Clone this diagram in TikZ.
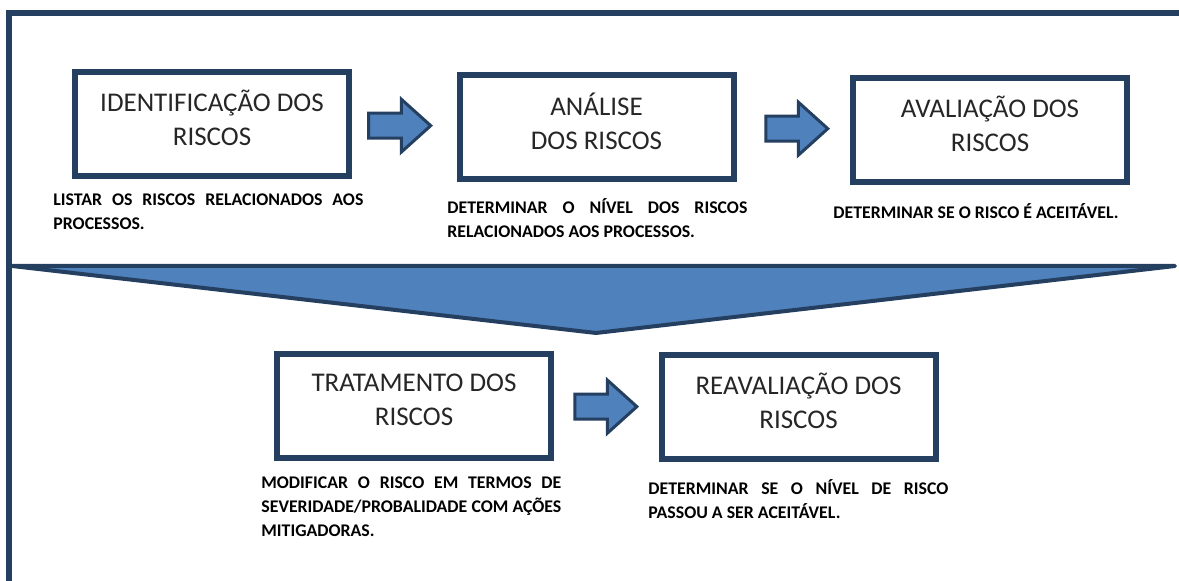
\documentclass[tikz,border=0pt]{standalone}
\usepackage{fontspec}
\setmainfont{Carlito}
\usetikzlibrary{shapes.arrows,calc}
\definecolor{navy}{HTML}{243F60}
\definecolor{steel}{HTML}{4F81BD}
\definecolor{ink}{HTML}{262626}
\begin{document}
\begin{tikzpicture}[x=0.5pt,y=-0.5pt,
	etapa/.style={draw=navy, line width=3pt, minimum width=137pt, minimum height=52pt,
		align=center, text=ink, font=\fontsize{13.5}{17}\selectfont,
		execute at end node={\rule[-6.5pt]{0pt}{0pt}}},
	nota/.style={anchor=north west, inner sep=0pt, text width=#1, align=justify,
		font=\bfseries\fontsize{8.9}{12}\selectfont},
	seta/.style={single arrow, draw=navy, fill=steel, line width=1.5pt, inner sep=0pt,
		inner ysep=5.5pt, minimum height=31pt, minimum width=25pt,
		single arrow head extend=7pt, single arrow tip angle=84}]
		\useasboundingbox (0,0) rectangle (1179,581);
		\draw[navy, line width=3pt] (9,581) -- (9,13) -- (1179,13);

		\node[etapa] (b1) at (212,124.5) {IDENTIFICAÇÃO DOS\\RISCOS};
		\node[etapa] (b2) at (596.5,127.5) {ANÁLISE\\DOS RISCOS};
		\node[etapa] (b3) at (990,130) {AVALIAÇÃO DOS\\RISCOS};
		\node[etapa] (b4) at (414,406) {TRATAMENTO DOS\\RISCOS};
		\node[etapa] (b5) at (798.5,407.5) {REAVALIAÇÃO DOS\\RISCOS};

		\node[seta] (a12) at ($(b1.east)!.39!(b2.west)$) {};
		\node[seta] (a23) at ($(b2.east)!.47!(b3.west)$) {};
		\node[seta] (a45) at ($(b4.east)!.43!(b5.west)$) {};

		\node[nota=155pt] (d1) at (53,188) {\strut LISTAR OS RISCOS RELACIONADOS AOS\linebreak PROCESSOS.};
		\node[nota=150pt] (d2) at (447,196) {\strut DETERMINAR O NÍVEL DOS RISCOS\linebreak RELACIONADOS AOS PROCESSOS.};
		\node[nota=145pt] (d3) at (833,201) {\strut DETERMINAR SE O RISCO É ACEITÁVEL.};
		\node[nota=150pt] (d4) at (261,471) {\strut MODIFICAR O RISCO EM TERMOS DE\linebreak SEVERIDADE/PROBALIDADE COM AÇÕES\linebreak MITIGADORAS.};
		\node[nota=150pt] (d5) at (648,477) {\strut DETERMINAR SE O NÍVEL DE RISCO\linebreak PASSOU A SER ACEITÁVEL.};

		% seta grande para baixo
		\draw[fill=steel, draw=navy, line width=2pt, line join=round]
			(12,266) -- (1175,266) -- (596,333) -- cycle;
	\end{tikzpicture}
\end{document}
